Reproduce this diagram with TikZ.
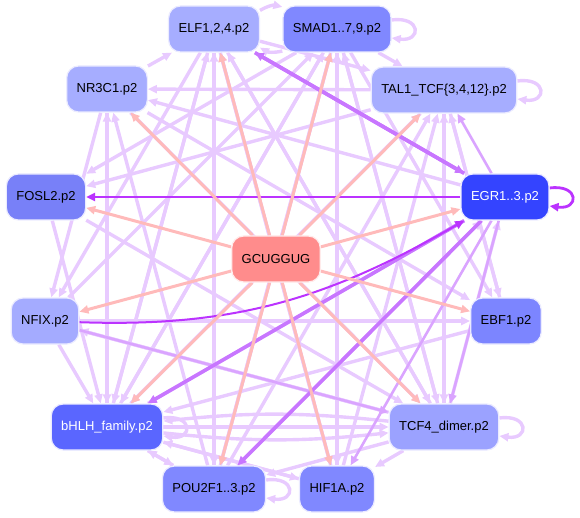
\documentclass[tikz,border=0pt]{standalone}
\usepackage{fontspec}
\setmainfont{Liberation Sans}
\usepackage{xcolor}
\usetikzlibrary{arrows.meta, backgrounds}

\definecolor{tfpale}{RGB}{166,173,255}
\definecolor{tfmid}{RGB}{128,136,255}
\definecolor{tffosl}{RGB}{120,128,248}
\definecolor{tfdeep}{RGB}{90,102,255}
\definecolor{tfdark}{RGB}{52,68,255}
\definecolor{mirpink}{RGB}{255,140,140}
\definecolor{edgelite}{RGB}{232,202,255}
\definecolor{edgemid}{RGB}{218,164,255}
\definecolor{edgedark}{RGB}{200,118,255}
\definecolor{edgestrong}{RGB}{187,51,255}
\definecolor{edgepink}{RGB}{255,186,186}

\begin{document}
\begin{tikzpicture}[
    x=1pt, y=-1pt,
    font=\fontsize{13}{15}\selectfont,
    tfbox/.style={
        rectangle, rounded corners=12pt, draw=blue!8, line width=1.2pt,
        minimum height=46pt, inner xsep=10pt, align=center
    },
    litearr/.style={-{Triangle[length=9pt,width=8pt]}, line width=3.4pt, edgelite},
    midarr/.style={-{Triangle[length=9pt,width=8pt]}, line width=2.6pt, edgemid},
    darkarr/.style={-{Triangle[length=9pt,width=8pt]}, line width=3.6pt, edgedark},
    strongarr/.style={-{Triangle[length=9pt,width=8pt]}, line width=2.8pt, edgestrong},
    pinkarr/.style={-{Triangle[length=9pt,width=8pt]}, line width=3pt, edgepink},
]
\useasboundingbox (0,0) rectangle (580,518);

% ---- Nodes ----
\node[tfbox, fill=tfpale]   (elf)  at (214,29)  {ELF1,2,4.p2};
\node[tfbox, fill=tfmid]    (smad) at (337,29)  {SMAD1..7,9.p2};
\node[tfbox, fill=tfpale]   (nr)   at (107,89)  {NR3C1.p2};
\node[tfbox, fill=tfpale]   (tal)  at (444,90)  {TAL1\_TCF\{3,4,12\}.p2};
\node[tfbox, fill=tffosl]   (fosl) at (46,197)  {FOSL2.p2};
\node[tfbox, fill=tfdark, text=white] (egr) at (505,197) {EGR1..3.p2};
\node[tfbox, fill=mirpink, draw=red!8] (gcu) at (276,259) {GCUGGUG};
\node[tfbox, fill=tfpale!95!tfmid] (nfix) at (45,321) {NFIX.p2};
\node[tfbox, fill=tfmid!90!tfdeep] (ebf) at (506,321) {EBF1.p2};
\node[tfbox, fill=tfdeep, text=white] (bhlh) at (107,427) {bHLH\_family.p2};
\node[tfbox, fill=tfpale!70!tfmid] (tcf) at (444,427) {TCF4\_dimer.p2};
\node[tfbox, fill=tfmid]    (pou)  at (214,489) {POU2F1..3.p2};
\node[tfbox, fill=tfmid]    (hif)  at (337,489) {HIF1A.p2};

\begin{scope}[on background layer]
% ---- Light edges between factors ----
\foreach \a/\b in {smad/tal, elf/tal, nr/elf, tal/nr, egr/nr, bhlh/nr, pou/nr,
    smad/fosl, tal/fosl, bhlh/elf, pou/elf, hif/elf, tcf/elf,
    bhlh/smad, pou/smad, hif/smad, tcf/smad, nfix/smad,
    bhlh/tal, tcf/tal, hif/tal, ebf/tal, pou/tal,
    nr/nfix, elf/nfix, tcf/nfix,
    nfix/bhlh, nr/bhlh, fosl/bhlh, elf/bhlh, smad/bhlh, tal/bhlh, hif/bhlh, pou/bhlh, ebf/bhlh,
    bhlh/tcf, nfix/tcf, fosl/tcf, nr/tcf, elf/tcf, smad/tcf, tal/tcf,
    smad/ebf, tal/ebf, nr/ebf, nfix/ebf,
    bhlh/egr, pou/egr, tcf/egr,
    bhlh/hif, tcf/hif, elf/hif, smad/hif,
    tcf/pou, smad/pou, elf/pou, bhlh/pou} {
    \draw[litearr] (\a) -- (\b);
}
\draw[litearr] (elf) to[bend left=22] (smad);
\draw[litearr] (smad) to[bend left=22] (elf);
\draw[litearr] (tcf) to[bend right=6] (bhlh);
\draw[litearr] (bhlh) to[bend right=6] (tcf);

% ---- Self loops ----
\foreach \n in {smad, tal, tcf, pou, bhlh} {
    \draw[litearr] ([yshift=9pt]\n.east) .. controls +(30,-4) and +(30,4) .. ([yshift=-9pt]\n.east);
}
\draw[strongarr] ([yshift=9pt]egr.east) .. controls +(30,-4) and +(30,4) .. ([yshift=-9pt]egr.east);

% ---- Darker edges ----
\foreach \a/\b in {egr/tal, egr/tcf, egr/hif, nfix/tcf} {
    \draw[midarr] (\a) -- (\b);
}
\foreach \a/\b in {elf/egr, egr/elf, egr/bhlh, egr/pou} {
    \draw[darkarr] (\a) -- (\b);
}
\draw[strongarr] (egr) -- (fosl);
\draw[strongarr, line width=2pt] (nfix) to[out=-2, in=-150] (egr);

% ---- Edges from the motif ----
\foreach \b in {elf, smad, nr, tal, fosl, egr, nfix, ebf, bhlh, tcf, pou, hif} {
    \draw[pinkarr] (gcu) -- (\b);
}
\end{scope}

\end{tikzpicture}
\end{document}
